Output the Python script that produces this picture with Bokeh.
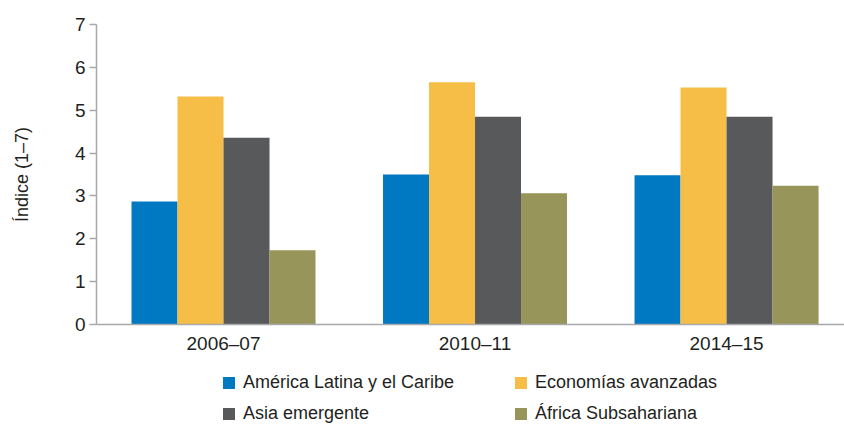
from bokeh.plotting import figure
from bokeh.models import (ColumnDataSource, Range1d, FixedTicker, Legend, LegendItem)
from bokeh.layouts import column
from bokeh.transform import dodge
from bokeh.embed import file_html
from bokeh.resources import INLINE

periods = ["2006–07", "2010–11", "2014–15"]
series_names = ["América Latina y el Caribe", "Economías avanzadas",
                "Asia emergente", "África Subsahariana"]
latam = [2.87, 3.50, 3.48]
advanced = [5.32, 5.65, 5.53]
asia = [4.36, 4.85, 4.85]
africa = [1.73, 3.06, 3.24]
colors = ["#0079C2", "#F6BE46", "#58595B", "#979559"]
y_ticks = [0, 1, 2, 3, 4, 5, 6, 7]

FONT = "Liberation Sans"
TXT = "#231F20"
AX = "#A7A9AC"

p = figure(width=844, height=360, output_backend="svg", toolbar_location=None,
           x_range=Range1d(-0.505, 2.469), y_range=Range1d(0, 7),
           min_border_left=96, min_border_right=0, min_border_top=24,
           min_border_bottom=36)
p.outline_line_color = None
p.xgrid.grid_line_color = None
p.ygrid.grid_line_color = None

xs = list(range(len(periods)))
src = ColumnDataSource(dict(x=xs, latam=latam, advanced=advanced,
                            asia=asia, africa=africa))
keys = ["latam", "advanced", "asia", "africa"]
w = 0.1829
offsets = [-1.5 * w, -0.5 * w, 0.5 * w, 1.5 * w]
for key, off, col in zip(keys, offsets, colors):
    p.vbar(x=dodge("x", off, range=p.x_range), top=key, width=w, bottom=0,
           source=src, fill_color=col, line_color=None)

# axes
p.xaxis.ticker = FixedTicker(ticks=xs)
p.xaxis.major_label_overrides = {i: s for i, s in enumerate(periods)}
p.xaxis.major_tick_out = 0
p.xaxis.major_tick_in = 0
p.xaxis.minor_tick_line_color = None
p.xaxis.axis_line_color = AX
p.xaxis.axis_line_width = 1.5
p.xaxis.major_label_standoff = 8
p.xaxis.major_label_text_font = FONT
p.xaxis.major_label_text_font_size = "19px"
p.xaxis.major_label_text_color = TXT

p.yaxis.ticker = FixedTicker(ticks=y_ticks)
p.yaxis.major_tick_out = 7
p.yaxis.major_tick_in = 0
p.yaxis.minor_tick_line_color = None
p.yaxis.axis_line_color = AX
p.yaxis.axis_line_width = 1.5
p.yaxis.major_tick_line_color = AX
p.yaxis.major_tick_line_width = 1.5
p.yaxis.major_label_standoff = 4
p.yaxis.major_label_text_font = FONT
p.yaxis.major_label_text_font_size = "19px"
p.yaxis.major_label_text_color = TXT
p.yaxis.axis_label = "Índice (1–7)"
p.yaxis.axis_label_text_font = FONT
p.yaxis.axis_label_text_font_size = "18px"
p.yaxis.axis_label_text_font_style = "normal"
p.yaxis.axis_label_text_color = TXT
p.yaxis.axis_label_standoff = 40

# legend in its own strip below the chart (hidden proxy renderers)
lg = figure(width=844, height=65, output_backend="svg", toolbar_location=None,
            x_range=Range1d(0, 1), y_range=Range1d(0, 1),
            min_border_left=96, min_border_right=0, min_border_top=0,
            min_border_bottom=0)
lg.axis.visible = False
lg.grid.visible = False
lg.outline_line_color = None
items = []
for name, key, col in zip(series_names, keys, colors):
    r = lg.vbar(x="x", top=key, width=0.1, source=src,
                fill_color=col, line_color=None, visible=False)
    items.append(LegendItem(label=name, renderers=[r]))
legend = Legend(items=items, orientation="horizontal", nrows=2,
                location=(125, 1), padding=0, margin=0, spacing=10,
                glyph_width=15, glyph_height=15, label_height=15,
                label_width=260, label_standoff=7,
                border_line_color=None, background_fill_alpha=0,
                inactive_fill_alpha=0,
                label_text_font=FONT, label_text_font_size="18px",
                label_text_color=TXT)
lg.add_layout(legend, "center")

layout = column(p, lg, spacing=0)
open("out.html", "w").write(file_html(layout, INLINE))
